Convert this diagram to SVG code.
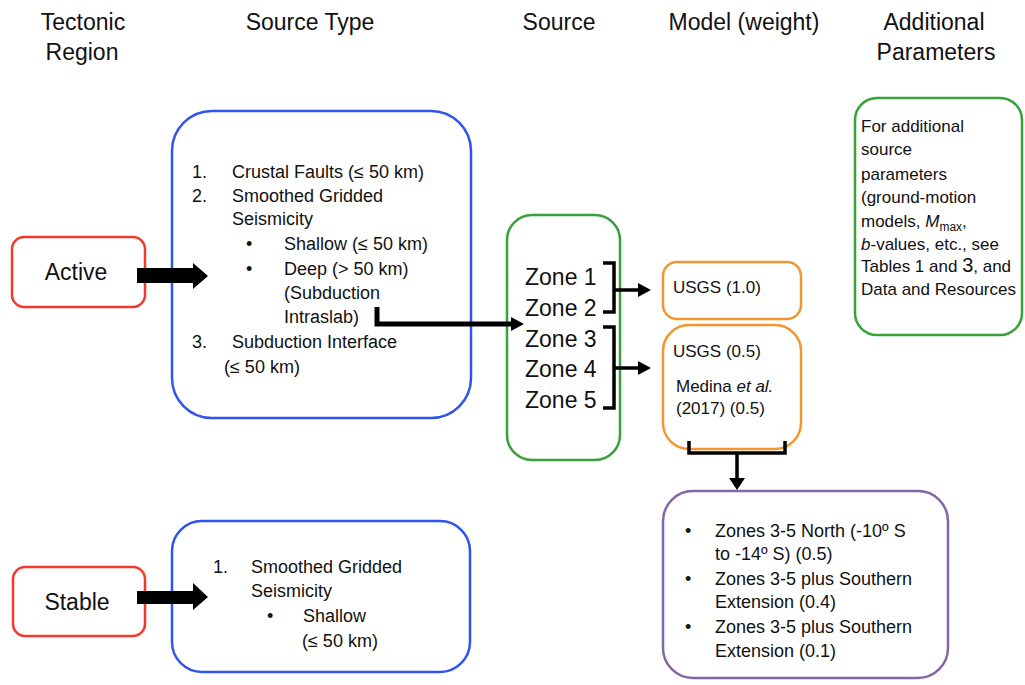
<svg xmlns="http://www.w3.org/2000/svg" width="1025" height="685" viewBox="0 0 1025 685">
<style>
text{font-family:"Liberation Sans",Arial,sans-serif;fill:#111}
.hd{font-size:23px}
.t{font-size:18px}
.a{font-size:17px}
.s{font-size:17px}
.z{font-size:23px}
.red{fill:#fff;stroke:#f2392b;stroke-width:2.5}
.blue{fill:#fff;stroke:#2f55ec;stroke-width:2.5}
.green{fill:#fff;stroke:#3aa03a;stroke-width:2.5}
.orange{fill:#fff;stroke:#f2962f;stroke-width:2.5}
.purple{fill:#fff;stroke:#8466a6;stroke-width:2.5}
.ln{fill:none;stroke:#000;stroke-width:3.5}
.thick{fill:none;stroke:#000;stroke-width:5}
</style>
<g id="headers">
<text class="hd" x="83" y="30" text-anchor="middle">Tectonic</text>
<text class="hd" x="82" y="60" text-anchor="middle">Region</text>
<text class="hd" x="310" y="30" text-anchor="middle">Source Type</text>
<text class="hd" x="559" y="30" text-anchor="middle">Source</text>
<text class="hd" x="744" y="30" text-anchor="middle">Model (weight)</text>
<text class="hd" x="934" y="30" text-anchor="middle">Additional</text>
<text class="hd" x="936" y="60" text-anchor="middle">Parameters</text>
</g>
<g id="active">
<rect class="red" x="12" y="237" width="133" height="70" rx="12"/>
<text class="hd" x="76" y="280" text-anchor="middle">Active</text>
</g>
<g id="stable">
<rect class="red" x="13" y="567" width="132" height="69" rx="12"/>
<text class="hd" x="77" y="610" text-anchor="middle">Stable</text>
</g>
<g id="active-source-type">
<rect class="blue" x="172" y="111" width="299" height="307" rx="40"/>
<text class="t" x="192" y="178">1.</text>
<text class="t" x="232" y="178">Crustal Faults (≤ 50 km)</text>
<text class="t" x="192" y="202">2.</text>
<text class="t" x="232" y="202">Smoothed Gridded</text>
<text class="t" x="232" y="225">Seismicity</text>
<text class="t" x="246" y="250">•</text>
<text class="t" x="284" y="250">Shallow (≤ 50 km)</text>
<text class="t" x="246" y="275">•</text>
<text class="t" x="284" y="275">Deep (&gt; 50 km)</text>
<text class="t" x="284" y="299">(Subduction</text>
<text class="t" x="284" y="323">Intraslab)</text>
<text class="t" x="192" y="348">3.</text>
<text class="t" x="232" y="348">Subduction Interface</text>
<text class="t" x="224" y="373">(≤ 50 km)</text>
</g>
<g id="stable-source-type">
<rect class="blue" x="172" y="521" width="298" height="151" rx="30"/>
<text class="t" x="213" y="573">1.</text>
<text class="t" x="251" y="573">Smoothed Gridded</text>
<text class="t" x="251" y="597">Seismicity</text>
<text class="t" x="267" y="622">•</text>
<text class="t" x="303" y="622">Shallow</text>
<text class="t" x="302" y="647">(≤ 50 km)</text>
</g>
<g id="source">
<rect class="green" x="507" y="215" width="113" height="245" rx="25"/>
<text class="z" x="525" y="285">Zone 1</text>
<text class="z" x="525" y="316">Zone 2</text>
<text class="z" x="525" y="347">Zone 3</text>
<text class="z" x="525" y="377">Zone 4</text>
<text class="z" x="525" y="408">Zone 5</text>
</g>
<g id="usgs-1">
<rect class="orange" x="663" y="262" width="138" height="57" rx="14"/>
<text class="s" x="673" y="293">USGS (1.0)</text>
</g>
<g id="usgs-medina">
<rect class="orange" x="663" y="325" width="138" height="124" rx="26"/>
<text class="s" x="673" y="357">USGS (0.5)</text>
<text class="s" x="676" y="392">Medina <tspan font-style="italic">et al.</tspan></text>
<text class="s" x="676" y="414">(2017) (0.5)</text>
</g>
<g id="zones-variants">
<rect class="purple" x="663" y="491" width="285" height="187" rx="30"/>
<text class="t" x="685" y="537">•</text>
<text class="t" x="715" y="537">Zones 3-5 North (-10º S</text>
<text class="t" x="715" y="560">to -14º S) (0.5)</text>
<text class="t" x="685" y="585">•</text>
<text class="t" x="715" y="585">Zones 3-5 plus Southern</text>
<text class="t" x="715" y="608">Extension (0.4)</text>
<text class="t" x="685" y="633">•</text>
<text class="t" x="715" y="633">Zones 3-5 plus Southern</text>
<text class="t" x="715" y="657">Extension (0.1)</text>
</g>
<g id="additional-parameters">
<rect class="green" x="855" y="98" width="167" height="237" rx="22"/>
<text class="a" x="861" y="132">For additional</text>
<text class="a" x="861" y="155">source</text>
<text class="a" x="861" y="180">parameters</text>
<text class="a" x="861" y="203">(ground-motion</text>
<text class="a" x="861" y="227">models, <tspan font-style="italic">M</tspan><tspan font-size="12" dy="4">max</tspan><tspan dy="-4">,</tspan></text>
<text class="a" x="861" y="250"><tspan font-style="italic">b</tspan>-values, etc., see</text>
<text class="a" x="861" y="272">Tables 1 and <tspan font-size="20">3</tspan>, and</text>
<text class="a" x="861" y="295">Data and Resources</text>
</g>
<g id="connectors">
<polygon points="137,268 193,268 193,263 208,276 193,289 193,283 137,283" fill="#000"/>
<polygon points="137,591 193,591 193,583 208,597 193,610 193,604 137,604" fill="#000"/>
<path class="thick" d="M377,307 V324 H513"/>
<polygon points="511,317 524,324 511,331" fill="#000"/>
<path class="ln" d="M603,263 H614 V312 H603 M614,290 H640"/>
<polygon points="638,283 651,290 638,297" fill="#000"/>
<path class="ln" d="M603,327 H614 V408 H603 M614,368 H640"/>
<polygon points="638,361 651,368 638,375" fill="#000"/>
<path class="ln" d="M689,441 V453 H785 V441 M737,453 V480"/>
<polygon points="729,478 745,478 737,490" fill="#000"/>
</g>
</svg>
